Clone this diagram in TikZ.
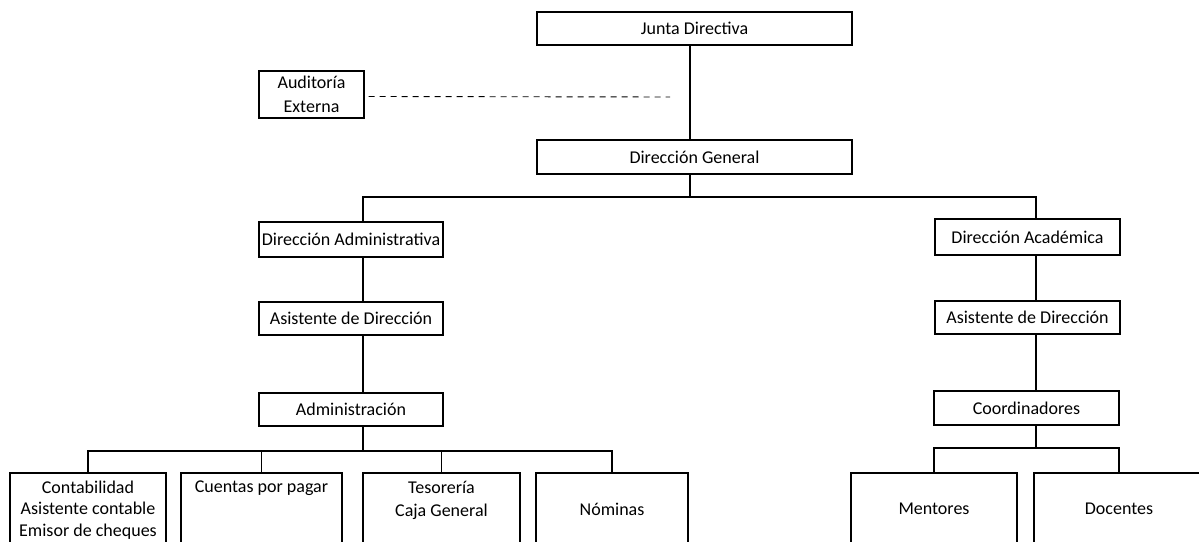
\documentclass[tikz,border=0pt]{standalone}
\usepackage{fontspec}
\setmainfont{Carlito}
\begin{document}
\begin{tikzpicture}[x=1pt,y=-1pt,line width=1.2pt,
		orgbox/.style={draw,inner sep=0pt,align=center,font=\fontsize{18}{23.5}\selectfont},
		txt/.style={inner sep=0pt,align=center,font=\fontsize{18}{23.5}\selectfont},
		dashline/.style={line width=0.9pt,dash pattern=on 6pt off 5pt}]
		\useasboundingbox (0,0) rectangle (1199,541);
		\clip (0,0) rectangle (1199,541);
		\coordinate (lt) at (363,0);
		\coordinate (mt) at (690,0);
		\coordinate (rt) at (1036,0);
		\coordinate (bar1) at (0,197);
		\coordinate (bar2) at (0,451);
		\coordinate (bar3) at (0,448);
		\coordinate (dend) at (670,97);
		\node[orgbox,minimum width=315,minimum height=33] (jd) at (694.5,28.5) {Junta Directiva};
		\node[orgbox,minimum width=105,minimum height=47] (aud) at (311.5,94.5) {Auditoría\\Externa};
		\node[orgbox,minimum width=315,minimum height=34] (dg) at (694.5,157) {Dirección General};
		\node[orgbox,minimum width=184,minimum height=35] (dadm) at (351,239.5) {Dirección Administrativa};
		\node[orgbox,minimum width=184,minimum height=33] (asis1) at (351,318.5) {Asistente de Dirección};
		\node[orgbox,minimum width=184,minimum height=33] (adm) at (351,409.5) {Administración};
		\node[orgbox,minimum width=185,minimum height=36] (dac) at (1027.5,237) {Dirección Académica};
		\node[orgbox,minimum width=185,minimum height=33] (asis2) at (1027.5,317.5) {Asistente de Dirección};
		\node[orgbox,minimum width=185,minimum height=34] (coord) at (1026.5,408) {Coordinadores};
		\node[orgbox,minimum width=156,minimum height=72] (cont) at (88,509) {};
		\node[orgbox,minimum width=161,minimum height=72] (cxp) at (261.5,509) {};
		\node[orgbox,minimum width=157,minimum height=72] (tes) at (441.5,509) {};
		\node[orgbox,minimum width=152,minimum height=72] (nom) at (612,509) {Nóminas};
		\node[orgbox,minimum width=166,minimum height=72] (ment) at (934,509) {Mentores};
		\node[orgbox,minimum width=170,minimum height=72] (doc) at (1119,509) {Docentes};
		\node[txt,anchor=north,font=\fontsize{18}{21.5}\selectfont] (contt) at ([yshift=-7.5pt]cont.north) {Contabilidad\\Asistente contable\\Emisor de cheques};
		\node[txt,anchor=north] (cxpt) at ([yshift=-8pt]cxp.north) {Cuentas por pagar};
		\node[txt,anchor=north] (test) at ([yshift=-8pt]tes.north) {Tesorería\\Caja General};
		\draw (jd.south -| mt) -- (dg.north -| mt);
		\draw[dashline] ([xshift=4pt,yshift=-2pt]aud.east) -- (dend);
		\draw (dg.south -| mt) -- (mt |- bar1);
		\draw (dadm.north -| lt) -- (lt |- bar1) -- (rt |- bar1) -- (dac.north -| rt);
		\draw (dadm.south -| lt) -- (asis1.north -| lt);
		\draw (asis1.south -| lt) -- (adm.north -| lt);
		\draw (adm.south -| lt) -- (lt |- bar2);
		\draw (cont.north) -- (cont.north |- bar2) -- (nom.north |- bar2) -- (nom.north);
		\draw (cxp.north) -- (cxp.north |- bar2);
		\draw (tes.north) -- (tes.north |- bar2);
		\draw (dac.south -| rt) -- (asis2.north -| rt);
		\draw (asis2.south -| rt) -- (coord.north -| rt);
		\draw (coord.south -| rt) -- (rt |- bar3);
		\draw (ment.north) -- (ment.north |- bar3) -- (doc.north |- bar3) -- (doc.north);
	\end{tikzpicture}
\end{document}
